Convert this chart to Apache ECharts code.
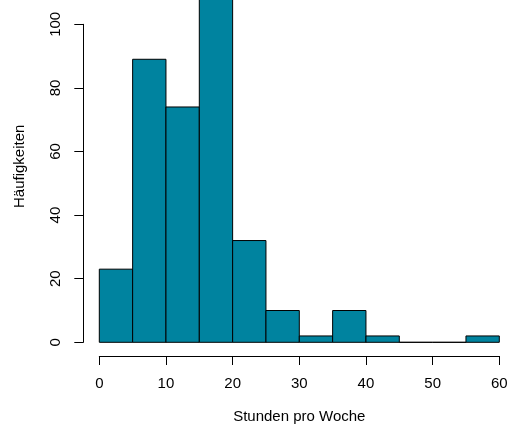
<!DOCTYPE html>
<html>
<head>
<meta charset="utf-8">
<script src="https://cdn.jsdelivr.net/npm/echarts@6/dist/echarts.min.js"></script>
<style>html,body{margin:0;padding:0;background:#fff;}#c{width:513px;height:433px;}</style>
</head>
<body>
<div id="c"></div>
<script>
const binStarts = [0, 5, 10, 15, 20, 25, 30, 35, 40, 45, 50, 55];
const binEnds   = [5, 10, 15, 20, 25, 30, 35, 40, 45, 50, 55, 60];
const counts    = [23, 89, 74, 110, 32, 10, 2, 10, 2, 0, 0, 2];
const xTicks = [0, 10, 20, 30, 40, 50, 60];
const yTicks = [0, 20, 40, 60, 80, 100];
const xTitle = 'Stunden pro Woche';
const yTitle = 'Häufigkeiten';

const FONT = "'Liberation Sans', Arial, Helvetica, sans-serif";
const data = binStarts.map((s, i) => [s, binEnds[i], counts[i]]);

const chart = echarts.init(document.getElementById('c'), null, {renderer: 'canvas'});
chart.setOption({
  animation: false,
  backgroundColor: '#ffffff',
  grid: {left: 99.3, right: 13.7, top: 24.3, bottom: 90.7},
  xAxis: {
    type: 'value', min: xTicks[0], max: xTicks[xTicks.length - 1], interval: 10,
    offset: 13.7,
    name: xTitle, nameLocation: 'middle', nameGap: 53,
    nameTextStyle: {color: '#000', fontSize: 15, fontFamily: FONT},
    axisLine: {show: true, onZero: false, lineStyle: {color: '#000', width: 1}},
    axisTick: {show: true, length: 9, lineStyle: {color: '#000', width: 1}},
    axisLabel: {color: '#000', fontSize: 15, fontFamily: FONT, margin: 20},
    splitLine: {show: false}
  },
  yAxis: {
    type: 'value', min: yTicks[0], max: yTicks[yTicks.length - 1], interval: 20,
    offset: 16,
    name: yTitle, nameLocation: 'middle', nameGap: 56,
    nameTextStyle: {color: '#000', fontSize: 15, fontFamily: FONT, padding: [0, 0, 0, 34]},
    axisLine: {show: true, onZero: false, lineStyle: {color: '#000', width: 1}},
    axisTick: {show: true, length: 9, lineStyle: {color: '#000', width: 1}},
    axisLabel: {color: '#000', fontSize: 15, fontFamily: FONT, margin: 20, rotate: 90},
    splitLine: {show: false}
  },
  series: [{
    type: 'custom',
    clip: false,
    data: data,
    encode: {x: [0, 1], y: 2},
    renderItem: function (params, api) {
      const p0 = api.coord([api.value(0), 0]);
      const p1 = api.coord([api.value(1), api.value(2)]);
      return {
        type: 'rect',
        shape: {x: p0[0], y: p1[1], width: p1[0] - p0[0], height: p0[1] - p1[1]},
        style: {fill: '#00839F', stroke: '#000', lineWidth: 1}
      };
    }
  }]
});
</script>
</body>
</html>
